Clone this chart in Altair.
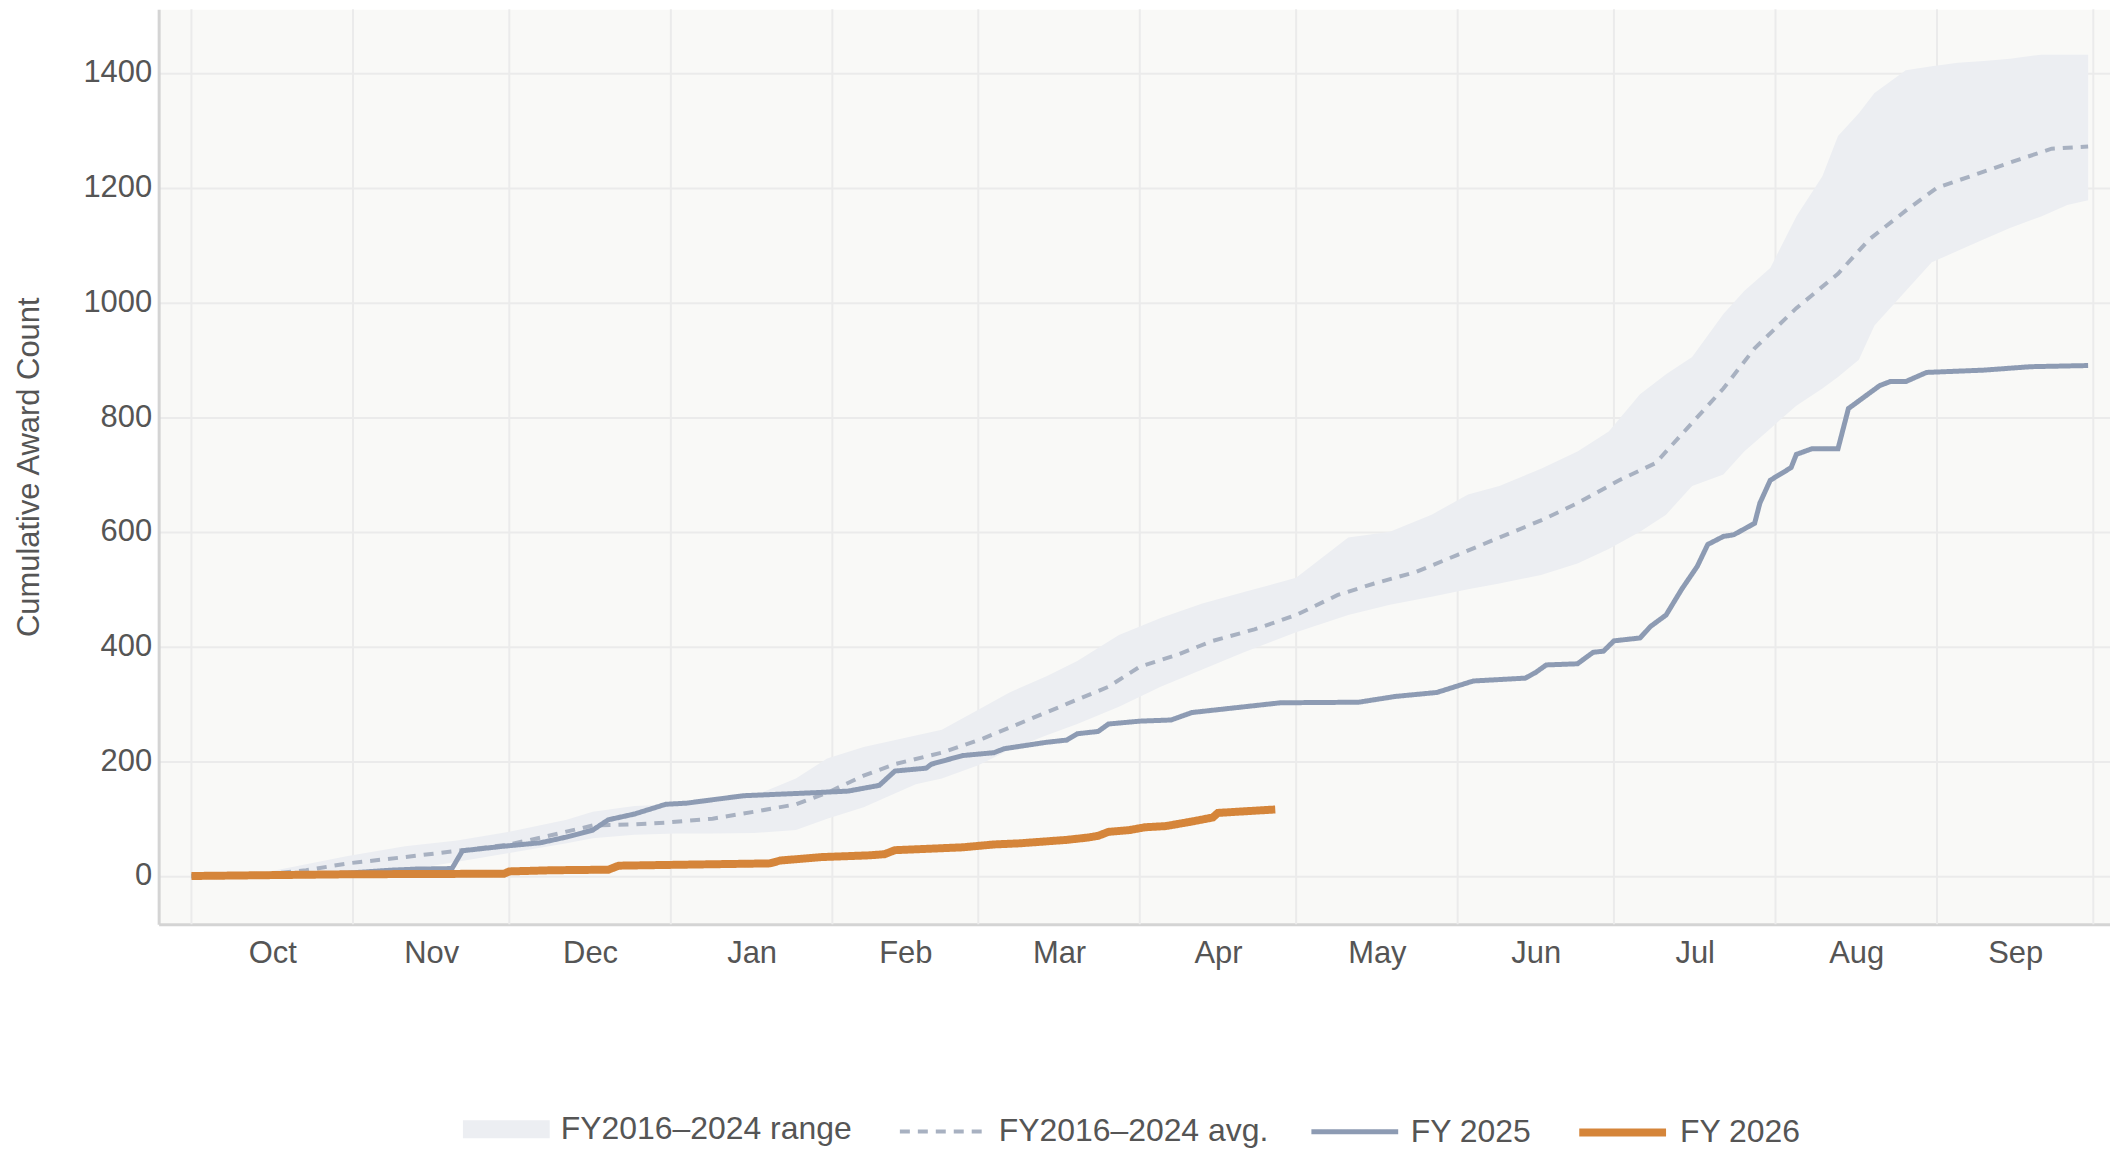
import altair as alt
import pandas as pd

FONT = "Liberation Sans"
TEXT = "#555555"
FS = 31

# ---------------- data (day of fiscal year, 0 = Oct 1) ----------------
month_names = ["Oct", "Nov", "Dec", "Jan", "Feb", "Mar", "Apr", "May", "Jun", "Jul", "Aug", "Sep"]
month_start_days = [0, 31, 61, 92, 123, 151, 182, 212, 243, 273, 304, 335, 365]
y_ticks = [0, 200, 400, 600, 800, 1000, 1200, 1400]

band_days = [0, 15, 30, 41, 51, 61, 72, 77, 85, 93, 100, 108, 116, 122, 129, 134, 139, 144, 151, 157,
             164, 170, 178, 186, 194, 202, 212, 222, 230, 238, 245, 251, 259, 266, 272, 278, 283, 288,
             294, 298, 303, 308, 313, 316, 320, 323, 329, 334, 339, 344, 349, 355, 360, 364]
band_upper = [0, 8, 35, 52, 62, 77, 98, 112, 122, 125, 128, 140, 170, 205, 225, 235, 245, 255, 290, 320,
              348, 375, 420, 450, 475, 495, 520, 590, 600, 630, 665, 680, 710, 740, 775, 840, 875, 905,
              980, 1020, 1060, 1150, 1220, 1290, 1330, 1365, 1405, 1412, 1418, 1421, 1425, 1432, 1432, 1432]
band_lower = [0, 1, 3, 10, 25, 40, 57, 66, 72, 74, 74, 75, 80, 100, 120, 140, 160, 170, 193, 220,
              245, 265, 295, 330, 360, 390, 425, 455, 473, 487, 500, 510, 525, 545, 570, 600, 630, 680,
              700, 740, 780, 820, 850, 870, 900, 960, 1020, 1070, 1090, 1110, 1130, 1150, 1170, 1178]

avg_days = [0, 15, 22, 30, 41, 52, 61, 69, 77, 85, 91, 100, 108, 116, 122, 129, 135, 144, 152, 160,
            168, 176, 182, 189, 196, 204, 212, 220, 227, 235, 243, 251, 259, 266, 274, 281, 287, 294,
            300, 308, 316, 322, 329, 335, 343, 351, 357, 364]
avg_values = [0, 4, 10, 22, 33, 45, 55, 71, 88, 90, 93, 100, 112, 125, 145, 175, 195, 215, 240, 270,
              300, 330, 365, 385, 410, 430, 455, 490, 510, 530, 560, 590, 620, 650, 690, 720, 780, 850,
              920, 990, 1050, 1110, 1160, 1200, 1225, 1250, 1268, 1272]

fy25_days = [0, 15, 30, 38, 43, 50, 52, 60, 67, 72, 77, 80, 85, 91, 95, 106, 119, 126, 132, 135,
             141, 142, 148, 154, 156, 164, 168, 170, 174, 176, 182, 188, 192, 209, 224, 231, 239, 246,
             256, 258, 260, 266, 269, 271, 273, 278, 280, 283, 286, 289, 291, 294, 296, 300, 301, 303,
             307, 308, 311, 316, 318, 321, 324, 326, 329, 333, 344, 353, 364]
fy25_values = [0, 1, 5, 10, 12, 13, 44, 52, 58, 68, 80, 98, 108, 125, 127, 140, 145, 148, 158, 183,
               188, 195, 210, 215, 222, 233, 237, 248, 252, 265, 270, 272, 285, 302, 303, 313, 320, 340,
               345, 355, 368, 370, 390, 392, 410, 415, 435, 455, 500, 540, 578, 592, 595, 615, 650, 690,
               712, 735, 745, 745, 815, 835, 855, 862, 862, 878, 882, 888, 890]

fy26_days = [0, 30, 60, 61, 69, 80, 82, 111, 113, 121, 130, 133, 135, 148, 154, 159, 168, 172, 174,
             176, 180, 183, 187, 192, 196, 197, 208]
fy26_values = [0, 3, 4, 8, 10, 11, 18, 22, 27, 33, 36, 38, 45, 50, 55, 57, 63, 67, 70, 77, 80, 85,
               87, 95, 102, 110, 116]

RANGE_NAME = "FY2016–2024 range"
LINE_NAMES = ["FY2016–2024 avg.", "FY 2025", "FY 2026"]
RANGE_COLOR = "#eceef2"
LINE_COLORS = ["#a8b1c1", "#8d9bb3", "#d5853a"]
LINE_WIDTHS = [4, 5, 8]
LINE_DASHES = [[10, 8], [1, 0], [1, 0]]

# ---------------- tables ----------------
grid_df = pd.DataFrame({"day": month_start_days})
band_df = pd.DataFrame({"day": band_days, "upper": band_upper, "lower": band_lower, "series": RANGE_NAME})
lines_df = pd.concat([
    pd.DataFrame({"day": avg_days, "value": avg_values, "series": LINE_NAMES[0]}),
    pd.DataFrame({"day": fy25_days, "value": fy25_values, "series": LINE_NAMES[1]}),
    pd.DataFrame({"day": fy26_days, "value": fy26_values, "series": LINE_NAMES[2]}),
], ignore_index=True)

month_mid = [(a + b) / 2 for a, b in zip(month_start_days[:-1], month_start_days[1:])]
label_expr = ("[" + ",".join(f"'{m}'" for m in month_names) + "][indexof(["
              + ",".join(str(v) for v in month_mid) + "], datum.value)]")

x_scale = alt.Scale(domain=[-6.3, 368.2], nice=False, zero=False)
x_axis = alt.Axis(values=month_mid, labelExpr=label_expr, grid=False, ticks=False,
                  domainColor="#d4d4d4", domainWidth=3, labelFontSize=FS, labelColor=TEXT,
                  labelFont=FONT, labelPadding=14, labelFlush=False, labelOverlap=False, title=None)
y_scale = alt.Scale(domain=[-84, 1511], nice=False, zero=False)
y_axis = alt.Axis(values=y_ticks, format="d", grid=True, gridColor="#ebebeb", gridWidth=2, ticks=False,
                  domainColor="#d4d4d4", domainWidth=3, labelFontSize=FS, labelColor=TEXT,
                  labelFont=FONT, labelPadding=7, title="Cumulative Award Count", titleFontSize=FS,
                  titleFontWeight="normal", titleColor=TEXT, titleFont=FONT, titlePadding=37)

common = dict(orient="none", direction="horizontal", title=None, labelFontSize=32,
              labelColor=TEXT, labelFont=FONT, labelOffset=10, labelLimit=1000, symbolOpacity=1)
legend_range = alt.Legend(legendX=304, legendY=1078, symbolSize=7569,
                          symbolType="M-1,-0.207L1,-0.207L1,0.207L-1,0.207Z", **common)
legend_lines = alt.Legend(legendX=741, legendY=1078, symbolSize=7569, symbolType="stroke",
                          columnPadding=32, **common)

fill = alt.Fill("series:N", scale=alt.Scale(domain=[RANGE_NAME], range=[RANGE_COLOR]), legend=legend_range)
color = alt.Color("series:N", scale=alt.Scale(domain=LINE_NAMES, range=LINE_COLORS), legend=legend_lines)
dash = alt.StrokeDash("series:N", scale=alt.Scale(type="ordinal", domain=LINE_NAMES, range=LINE_DASHES),
                      legend=legend_lines)
width = alt.StrokeWidth("series:N", scale=alt.Scale(type="ordinal", domain=LINE_NAMES, range=LINE_WIDTHS),
                        legend=legend_lines)
X = alt.X("day:Q", scale=x_scale, axis=x_axis)

grid = alt.Chart(grid_df).mark_rule(color="#ebebeb", strokeWidth=2).encode(x=X)
band = alt.Chart(band_df).mark_area(opacity=1).encode(
    x=X, y=alt.Y("upper:Q", scale=y_scale, axis=y_axis), y2="lower:Q", fill=fill)
lines = alt.Chart(lines_df).mark_line().encode(
    x=X, y=alt.Y("value:Q", scale=y_scale, axis=y_axis),
    color=color, strokeDash=dash, strokeWidth=width,
    order=alt.Order("day:Q"))

chart = (
    alt.layer(grid, band, lines)
    .properties(width=1956, height=917,
                padding={"left": 151, "top": 0, "right": 0, "bottom": 225},
                autosize=alt.AutoSizeParams(type="none"))
    .configure(font=FONT)
    .configure_view(fill="#f9f9f7", stroke="transparent")
)

chart.save("out.html", embed_options={"renderer": "svg", "actions": False})
